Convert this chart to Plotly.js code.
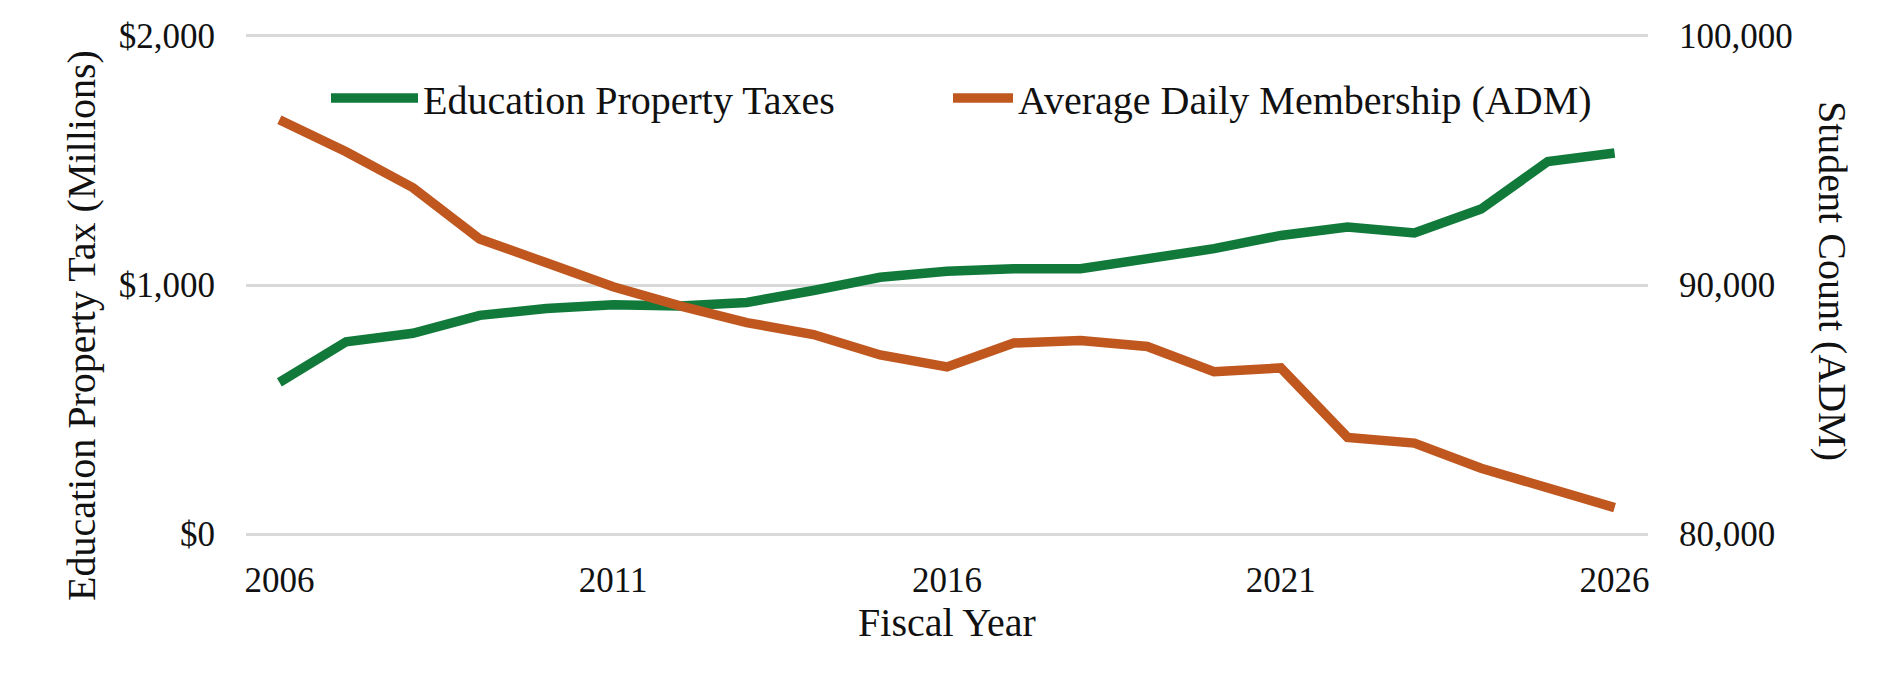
<!DOCTYPE html>
<html>
<head>
<meta charset="utf-8">
<script src="https://cdn.plot.ly/plotly-3.0.1.min.js"></script>
<style>
  html, body { margin: 0; padding: 0; background: #ffffff; }
  #chart { width: 1880px; height: 680px; }
</style>
</head>
<body>
<div id="chart"></div>
<script>
// ---- Data ----
const fiscalYears = [2006, 2007, 2008, 2009, 2010, 2011, 2012, 2013, 2014, 2015, 2016,
                     2017, 2018, 2019, 2020, 2021, 2022, 2023, 2024, 2025, 2026];

// Education Property Taxes, $ millions (left axis)
const propertyTaxes = [609, 772, 806, 878, 906, 921, 916, 930, 978, 1031, 1055,
                       1065, 1065, 1108, 1146, 1199, 1233, 1209, 1305, 1496, 1530];

// Average Daily Membership, student count (right axis)
const adm = [96640, 95350, 93910, 91850, 90890, 89930, 89160, 88490, 88010, 87190, 86710,
             87670, 87770, 87530, 86520, 86670, 83880, 83650, 82640, 81820, 81060];

const xTickVals = [2006, 2011, 2016, 2021, 2026];
const xTickText = ['2006', '2011', '2016', '2021', '2026'];
const leftTickVals = [0, 1000, 2000];
const leftTickText = ['$0', '$1,000', '$2,000'];
const rightTickVals = [80000, 90000, 100000];
const rightTickText = ['80,000', '90,000', '100,000'];

const seriesNames = ['Education Property Taxes', 'Average Daily Membership (ADM)'];
const axisTitles = {
  x: 'Fiscal Year',
  yLeft: 'Education Property Tax (Millions)',
  yRight: 'Student Count (ADM)'
};

// ---- Styling ----
const GREEN = '#117a3b';
const ORANGE = '#c0571f';
const FONT = 'Liberation Serif, Times New Roman, serif';
const TEXT = '#111111';
const GRID = '#d9d9d9';

const W = 1880, H = 680;
// plot area: x 246..1648, $2,000 at y=36, $0 at y=534 (ranges padded 2px so the edge gridlines draw)
const M = { l: 246, r: 232, t: 34, b: 144, autoexpand: false };
const PH = H - M.t - M.b, PW = W - M.l - M.r;

const traces = [
  {
    x: fiscalYears, y: propertyTaxes, name: seriesNames[0],
    type: 'scatter', mode: 'lines', yaxis: 'y', legend: 'legend',
    line: { color: GREEN, width: 9.5 },
    hoverinfo: 'skip'
  },
  {
    x: fiscalYears, y: adm, name: seriesNames[1],
    type: 'scatter', mode: 'lines', yaxis: 'y2', legend: 'legend2',
    line: { color: ORANGE, width: 9.5 },
    hoverinfo: 'skip'
  }
];

const layout = {
  width: W, height: H,
  margin: M,
  paper_bgcolor: '#ffffff',
  plot_bgcolor: '#ffffff',
  font: { family: FONT, color: TEXT, size: 35 },
  showlegend: true,
  legend: {
    xref: 'container', yref: 'container',
    x: 326 / W, y: 1 - 98 / H, xanchor: 'left', yanchor: 'middle',
    orientation: 'h', itemwidth: 87,
    font: { family: FONT, size: 40, color: TEXT },
    bgcolor: 'rgba(0,0,0,0)', borderwidth: 0
  },
  legend2: {
    xref: 'container', yref: 'container',
    x: 948 / W, y: 1 - 98 / H, xanchor: 'left', yanchor: 'middle',
    orientation: 'h', itemwidth: 60,
    font: { family: FONT, size: 40, color: TEXT },
    bgcolor: 'rgba(0,0,0,0)', borderwidth: 0
  },
  xaxis: {
    range: [2005.5, 2026.5],
    tickvals: xTickVals, ticktext: xTickText,
    showgrid: false, zeroline: false, showline: false,
    ticks: '', ticklabelstandoff: 20, automargin: false,
    tickfont: { family: FONT, size: 35, color: TEXT },
    title: { text: axisTitles.x, font: { family: FONT, size: 40, color: TEXT }, standoff: 6 },
    fixedrange: true
  },
  yaxis: {
    range: [-8, 2008],
    tickvals: leftTickVals, ticktext: leftTickText,
    showgrid: true, gridcolor: GRID, gridwidth: 3,
    zeroline: false, showline: false, ticks: '',
    ticklabelstandoff: 30, automargin: false,
    tickfont: { family: FONT, size: 35, color: TEXT },
    fixedrange: true
  },
  yaxis2: {
    range: [79920, 100080],
    overlaying: 'y', side: 'right',
    tickvals: rightTickVals, ticktext: rightTickText,
    showgrid: false, zeroline: false, showline: false, ticks: '',
    ticklabelstandoff: 30, automargin: false,
    tickfont: { family: FONT, size: 35, color: TEXT },
    fixedrange: true
  },
  annotations: [
    {
      text: axisTitles.yLeft, textangle: -90,
      xref: 'paper', yref: 'paper',
      x: (82 - M.l) / PW, y: (H - M.b - 326) / PH,
      xanchor: 'center', yanchor: 'middle', showarrow: false,
      font: { family: FONT, size: 40, color: TEXT }
    },
    {
      text: axisTitles.yRight, textangle: 90,
      xref: 'paper', yref: 'paper',
      x: (1833 - M.l) / PW, y: (H - M.b - 281) / PH,
      xanchor: 'center', yanchor: 'middle', showarrow: false,
      font: { family: FONT, size: 40, color: TEXT }
    }
  ]
};

Plotly.newPlot('chart', traces, layout, { displayModeBar: false, staticPlot: true });
</script>
</body>
</html>
